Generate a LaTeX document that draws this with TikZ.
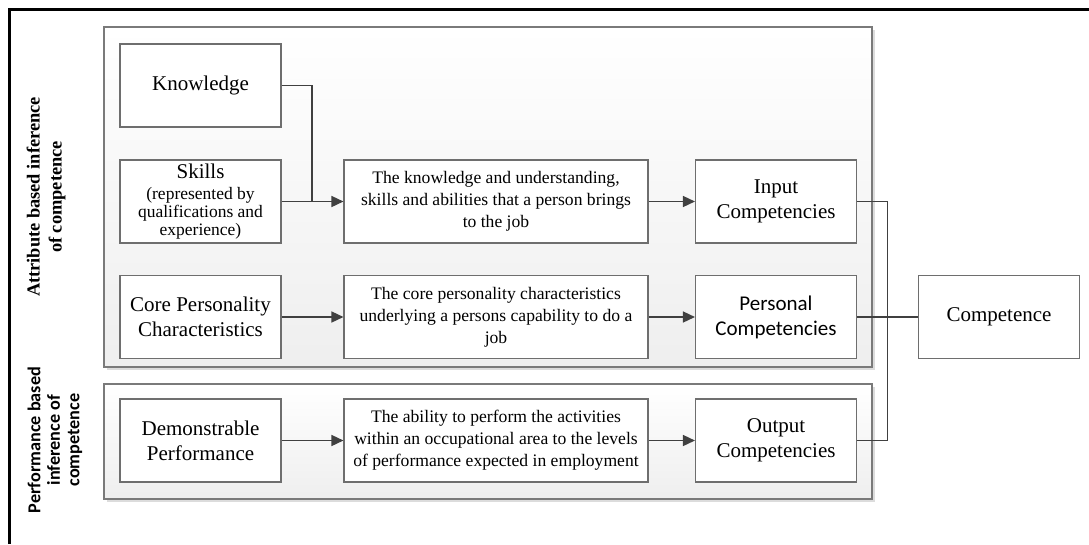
\documentclass[tikz,border=0pt]{standalone}
\usepackage{fontspec}
\setmainfont{Liberation Serif}
\newfontfamily\calibri{Carlito}
\usetikzlibrary{arrows.meta}

\definecolor{boxline}{HTML}{6E6E6E}
\definecolor{wire}{HTML}{404040}
\definecolor{groupline}{HTML}{7A7A7A}
\definecolor{shadowc}{HTML}{DCDCDC}

% smaller type for the bracketed note
\newcommand\notesize{\fontsize{17.5}{18.5}\selectfont}

\tikzset{
  stepbox/.style={draw=boxline, line width=1.1pt, fill=white, inner sep=2pt,
    minimum width=161pt, minimum height=83pt, align=center,
    font=\fontsize{21}{25}\selectfont},
  widebox/.style={stepbox, minimum width=304pt,
    font=\fontsize{17.6}{22}\selectfont},
  link/.style={draw=wire, line width=1.5pt},
  flow/.style={link, -{Triangle[length=12pt,width=11pt]}},
  grouplabel/.style={rotate=90, align=center, inner sep=0pt}
}

\begin{document}
\begin{tikzpicture}[x=1pt, y=-1pt]
  \useasboundingbox (0,0) rectangle (1089,544);

  % outer frame (top and left edges)
  \draw[line width=3pt, black] (9.5,544) -- (9.5,9.5) -- (1089,9.5);

  % group panels with a soft drop shadow
  \fill[shadowc] (107,30) rectangle (875,370);
  \shade[top color=white, bottom color=gray!13, draw=groupline, line width=1.3pt]
    (104,27) rectangle (872,367);
  \fill[shadowc] (107,387) rectangle (875,502);
  \shade[top color=white, bottom color=gray!13, draw=groupline, line width=1.3pt]
    (104,384) rectangle (872,499);

  % side labels
  \node[grouplabel, font=\bfseries\fontsize{18.4}{22}\selectfont] (attr) at (46,197)
    {Attribute based inference\\of competence};
  \node[grouplabel, font=\calibri\bfseries\fontsize{18.2}{19.5}\selectfont] (perf) at (55,440)
    {Performance based\\inference of\\competence};

  % first column
  \node[stepbox] (know) at (200.5,85.5) {Knowledge};
  \node[stepbox] (skills) at (200.5,201.5)
    {Skills\\[-4pt]\notesize (represented by\\[-7pt]\notesize qualifications and\\[-7pt]\notesize experience)};
  \node[stepbox] (core) at (200.5,317) {Core Personality\\Characteristics};
  \node[stepbox] (demo) at (200.5,440.5) {Demonstrable\\Performance};

  % descriptions
  \node[widebox] (d1) at (496,201.5)
    {The knowledge and understanding,\\skills and abilities that a person brings\\to the job};
  \node[widebox] (d2) at (496,317)
    {The core personality characteristics\\underlying a persons capability to do a\\job};
  \node[widebox] (d3) at (496,440.5)
    {The ability to perform the activities\\within an occupational area to the levels\\of performance expected in employment};

  % competency types
  \node[stepbox] (input) at (776,201.5) {Input\\Competencies};
  \node[stepbox, font=\calibri\fontsize{21}{25}\selectfont] (personal) at (776,317)
    {Personal\\Competencies};
  \node[stepbox] (output) at (776,440.5) {Output\\Competencies};

  \node[stepbox] (comp) at (999,317) {Competence};

  % connectors
  \coordinate (kbend) at (312,85.5);
  \draw[link] (know.east) -- (kbend) -- (312,201.5);
  \draw[flow] (skills.east) -- (d1.west);
  \draw[flow] (core.east) -- (d2.west);
  \draw[flow] (demo.east) -- (d3.west);
  \draw[flow] (d1.east) -- (input.west);
  \draw[flow] (d2.east) -- (personal.west);
  \draw[flow] (d3.east) -- (output.west);

  \coordinate (rtop) at (887.5,201.5);
  \coordinate (rbot) at (887.5,440.5);
  \draw[link] (input.east) -- (rtop) -- (rbot) -- (output.east);
  \draw[link] (personal.east) -- (comp.west);
\end{tikzpicture}
\end{document}
